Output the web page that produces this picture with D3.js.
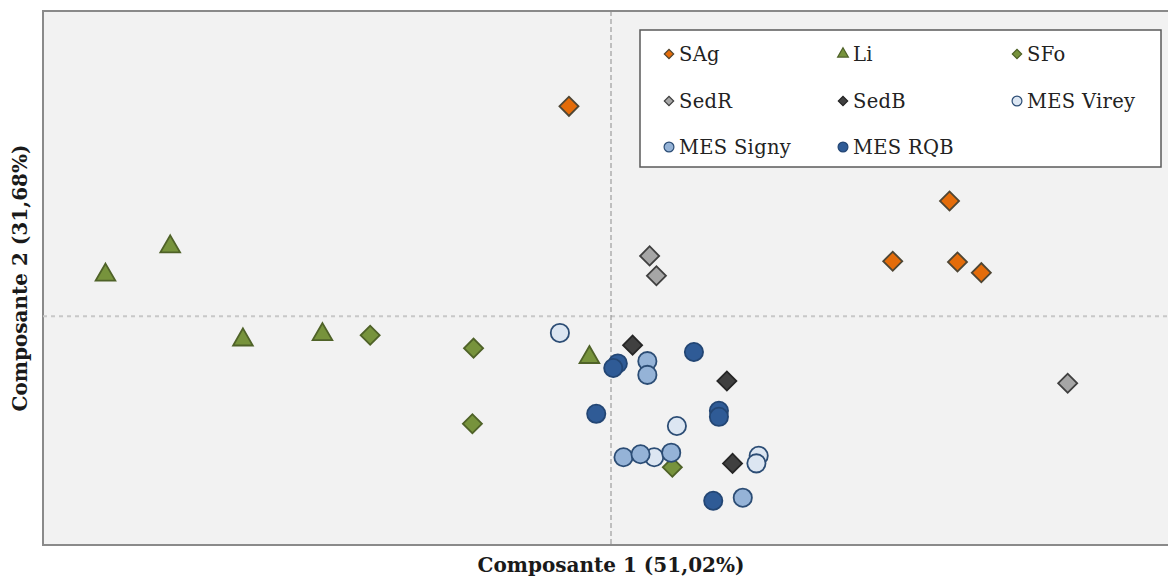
<!DOCTYPE html>
<html>
<head>
<meta charset="utf-8">
<script src="https://cdn.jsdelivr.net/npm/d3@7"></script>
<style>
  body { margin: 0; background: #fff; }
</style>
</head>
<body>
<script>
// series names, in legend order
var seriesNames = ["SAg", "Li", "SFo", "SedR", "SedB", "MES Virey", "MES Signy", "MES RQB"];

// PCA scores: [composante 1, composante 2]
var sAg = [[-0.37, 2.75], [2.98, 1.51], [2.48, 0.72], [3.05, 0.71], [3.26, 0.57]];
var li = [[-4.45, 0.54], [-3.88, 0.91], [-3.24, -0.31], [-2.54, -0.24], [-0.19, -0.54]];
var sFo = [[-2.12, -0.25], [-1.21, -0.42], [-1.22, -1.41], [0.54, -1.98]];
var sedR = [[0.34, 0.79], [0.40, 0.53], [4.02, -0.88]];
var sedB = [[0.19, -0.38], [1.02, -0.85], [1.07, -1.93]];
var mesVirey = [[-0.45, -0.22], [0.58, -1.44], [0.38, -1.85], [1.30, -1.83], [1.28, -1.93]];
var mesSigny = [[0.32, -0.59], [0.32, -0.77], [0.11, -1.85], [0.26, -1.81], [0.53, -1.79], [1.16, -2.38]];
var mesRQB = [[0.06, -0.62], [0.02, -0.68], [0.73, -0.47], [-0.13, -1.28], [0.95, -1.24], [0.95, -1.32], [0.90, -2.42]];

var seriesData = [sAg, li, sFo, sedR, sedB, mesVirey, mesSigny, mesRQB];

var axisX = "Composante 1 (51,02%)";
var axisY = "Composante 2 (31,68%)";

var serif = "'DejaVu Serif', serif";

// look of each series
var styles = {
  "SAg":       {shape: "diamond",  fill: "#E46C0A", stroke: "#4f4634"},
  "Li":        {shape: "triangle", fill: "#77933C", stroke: "#4F6228"},
  "SFo":       {shape: "diamond",  fill: "#77933C", stroke: "#4F6228"},
  "SedR":      {shape: "diamond",  fill: "#A6A6A6", stroke: "#404040"},
  "SedB":      {shape: "diamond",  fill: "#404040", stroke: "#262626"},
  "MES Virey": {shape: "circle",   fill: "#DCE6F2", stroke: "#2C4D75"},
  "MES Signy": {shape: "circle",   fill: "#95B3D7", stroke: "#2C4D75"},
  "MES RQB":   {shape: "circle",   fill: "#2F5B96", stroke: "#234674"}
};

var W = 1168, H = 579;
var plot = {left: 43, top: 11, right: 1179, bottom: 545};

var svg = d3.select("body").append("svg")
    .attr("width", W)
    .attr("height", H);

var x = d3.scaleLinear().domain([-5, 5]).range([plot.left, plot.right]);
var y = d3.scaleLinear().domain([-3, 4]).range([plot.bottom, plot.top]);

// plot background
svg.append("rect")
    .attr("x", plot.left).attr("y", plot.top)
    .attr("width", plot.right - plot.left)
    .attr("height", plot.bottom - plot.top)
    .attr("fill", "#F2F2F2");

// frame (top, left, bottom)
svg.append("path")
    .attr("d", "M" + plot.right + "," + plot.top + "H" + plot.left + "V" + plot.bottom + "H" + plot.right)
    .attr("fill", "none")
    .attr("stroke", "#8a8a8a")
    .attr("stroke-width", 2);

// zero lines
svg.append("line")
    .attr("x1", plot.left).attr("x2", plot.right)
    .attr("y1", y(0)).attr("y2", y(0))
    .attr("stroke", "#c8c8c8")
    .attr("stroke-width", 2)
    .attr("stroke-dasharray", "4,4");
svg.append("line")
    .attr("x1", x(0)).attr("x2", x(0))
    .attr("y1", plot.top).attr("y2", plot.bottom)
    .attr("stroke", "#8c8c8c")
    .attr("stroke-width", 1)
    .attr("stroke-dasharray", "5,3");

function markerPath(shape, big) {
  if (shape == "diamond") return d3.symbol(d3.symbolSquare, big ? 182 : 44)();
  if (shape == "triangle") return d3.symbol(d3.symbolTriangle, big ? 168 : 50)();
  return d3.symbol(d3.symbolCircle, big ? 262 : 76)();
}

function drawMarker(g, name, big) {
  var st = styles[name];
  g.append("path")
    .attr("d", markerPath(st.shape, big))
    .attr("transform", st.shape == "diamond" ? "rotate(45)" : null)
    .attr("fill", st.fill)
    .attr("stroke", st.stroke)
    .attr("stroke-width", big ? 1.8 : 1.2);
}

// points
seriesNames.forEach(function (name, i) {
  var g = svg.append("g").attr("class", "series");
  g.selectAll("g")
    .data(seriesData[i])
    .enter().append("g")
      .attr("transform", function (d) { return "translate(" + x(d[0]) + "," + y(d[1]) + ")"; })
      .each(function () { drawMarker(d3.select(this), name, true); });
});

// legend
var leg = svg.append("g").attr("transform", "translate(640,30)");
leg.append("rect")
    .attr("width", 521).attr("height", 137)
    .attr("fill", "#fff")
    .attr("stroke", "#5a5a5a")
    .attr("stroke-width", 1.5);

var colX = [29, 203, 377];
var rowY = [24, 71, 117];
seriesNames.forEach(function (name, i) {
  var item = leg.append("g")
      .attr("transform", "translate(" + colX[i % 3] + "," + rowY[Math.floor(i / 3)] + ")");
  drawMarker(item, name, false);
  item.append("text")
      .attr("x", 10)
      .attr("y", 7)
      .attr("font-family", serif)
      .attr("font-size", 19.5)
      .attr("letter-spacing", 0.3)
      .attr("fill", "#222")
      .text(name);
});

// axis titles
svg.append("text")
    .attr("x", x(0))
    .attr("y", 572)
    .attr("text-anchor", "middle")
    .attr("font-family", serif)
    .attr("font-size", 20)
    .attr("font-weight", "bold")
    .attr("fill", "#1a1a1a")
    .text(axisX);

svg.append("text")
    .attr("transform", "translate(27," + (plot.top + plot.bottom) / 2 + ") rotate(-90)")
    .attr("text-anchor", "middle")
    .attr("font-family", serif)
    .attr("font-size", 20)
    .attr("font-weight", "bold")
    .attr("fill", "#1a1a1a")
    .text(axisY);
</script>
</body>
</html>
